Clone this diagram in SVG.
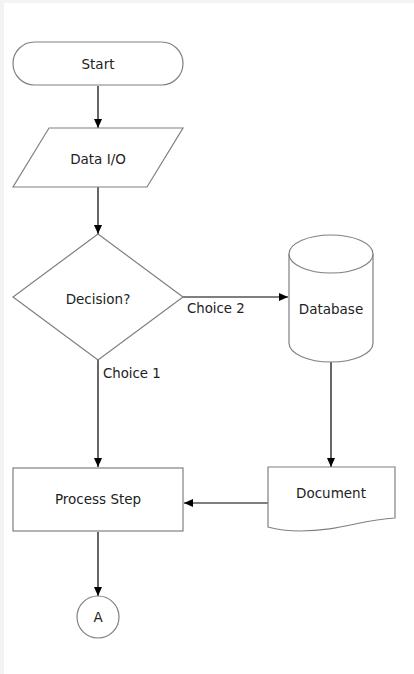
<svg xmlns="http://www.w3.org/2000/svg" width="414" height="674" viewBox="0 0 414 674">
<defs>
<marker id="arr" markerWidth="10" markerHeight="10" refX="9" refY="4" orient="auto" markerUnits="userSpaceOnUse">
<path d="M0,0 L9,4 L0,8 Z" fill="#000"/>
</marker>
<style>
.shape{fill:#fff;stroke:#808080;stroke-width:1.2}
.conn{fill:none;stroke:#000;stroke-width:1.2}
.lbl{font-family:"DejaVu Sans",Verdana,sans-serif;font-size:13.5px;fill:#222;text-anchor:middle;dominant-baseline:central}
.elbl{font-family:"DejaVu Sans",Verdana,sans-serif;font-size:13.3px;fill:#222}
</style>
</defs>
<rect x="0" y="0" width="414" height="674" fill="#f3f3f3"/>
<rect x="4" y="3" width="410" height="671" fill="#fff"/>
<g id="connectors">
<line class="conn" x1="98" y1="86" x2="98" y2="128" marker-end="url(#arr)"/>
<line class="conn" x1="98" y1="187" x2="98" y2="234" marker-end="url(#arr)"/>
<line class="conn" x1="183" y1="297" x2="288" y2="297" marker-end="url(#arr)"/>
<line class="conn" x1="98" y1="360" x2="98" y2="467" marker-end="url(#arr)"/>
<line class="conn" x1="331" y1="362" x2="331" y2="467" marker-end="url(#arr)"/>
<line class="conn" x1="268" y1="503" x2="184" y2="503" marker-end="url(#arr)"/>
<line class="conn" x1="98" y1="532" x2="98" y2="596" marker-end="url(#arr)"/>
<text class="elbl" x="187" y="313">Choice 2</text>
<text class="elbl" x="103" y="378">Choice 1</text>
</g>
<g id="start">
<rect class="shape" x="13" y="42" width="170" height="43" rx="21.5"/>
<text class="lbl" x="98" y="64">Start</text>
</g>
<g id="dataio">
<polygon class="shape" points="49,128 183,128 147,187 13,187"/>
<text class="lbl" x="98" y="159">Data I/O</text>
</g>
<g id="decision">
<polygon class="shape" points="98,234 183,297 98,360 13,297"/>
<text class="lbl" x="98" y="299">Decision?</text>
</g>
<g id="database">
<path class="shape" d="M289,254 L289,343 A42,19 0 0 0 373,343 L373,254 A42,19 0 0 0 289,254 Z"/>
<path class="shape" d="M289,254 A42,19 0 0 0 373,254" fill="none"/>
<text class="lbl" x="331" y="309">Database</text>
</g>
<g id="document">
<path class="shape" d="M268,467 L395,467 L395,518 C360,520 340,531 300,531 C285,531 275,529 268,527 Z"/>
<text class="lbl" x="331" y="493">Document</text>
</g>
<g id="process">
<rect class="shape" x="13" y="468" width="170" height="63"/>
<text class="lbl" x="98" y="499">Process Step</text>
</g>
<g id="connectorA">
<circle class="shape" cx="98" cy="617" r="21"/>
<text class="lbl" x="98" y="617">A</text>
</g>
</svg>
